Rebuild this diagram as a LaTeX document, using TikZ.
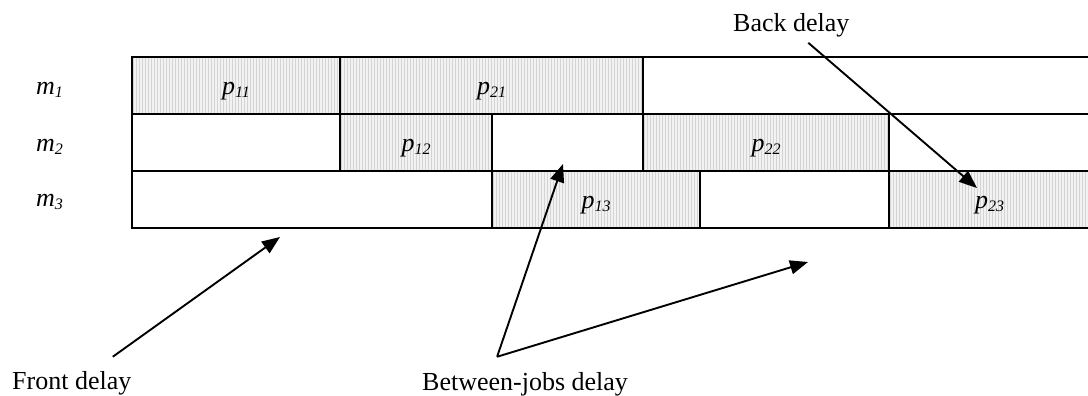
\documentclass[tikz,border=0pt]{standalone}
\usepackage{fontspec}
\setmainfont{Liberation Serif}
\usetikzlibrary{arrows.meta}
\definecolor{stripebg}{HTML}{F2F2F2}
\definecolor{stripefg}{HTML}{D4D4D4}
% job label with a Word-style italic subscript
\newcommand\jobp[1]{p\raisebox{-3pt}{\fontsize{16}{16}\selectfont #1}}
\newcommand\machm[1]{m\raisebox{-3pt}{\fontsize{16}{16}\selectfont #1}}
\begin{document}
\begin{tikzpicture}[x=1pt,y=-1pt,
  cell/.style={draw=black, line width=1.9pt, inner sep=0pt, outer sep=0pt,
    minimum height=57pt, text height=18pt, text depth=0pt,
    font=\fontsize{26}{26}\selectfont\itshape},
  idle/.style={cell},
  busy/.style={cell, fill=stripebg,
    path picture={
      \foreach \k in {1.5,4.5,...,460}
        \draw[line width=0.9pt, draw=stripefg]
          ([xshift=\k pt]path picture bounding box.south west) --
          ([xshift=\k pt]path picture bounding box.north west);
    }},
  mach/.style={anchor=base west, inner sep=0pt, font=\fontsize{26}{26}\selectfont\itshape},
  note/.style={anchor=base west, inner sep=0pt, font=\fontsize{26}{26}\selectfont},
  arr/.style={line width=1.9pt, -{Triangle[length=18pt,width=14pt]}}
]
\useasboundingbox (0,0) rectangle (1088,396);

% machine labels
\node[mach] (m1) at (36,95)    {\machm{1}};
\node[mach] (m2) at (36,151.5) {\machm{2}};
\node[mach] (m3) at (36,206)   {\machm{3}};

% machine 1
\node[busy, minimum width=208pt] (p11) at (236,85.5)   {\jobp{11}};
\node[busy, minimum width=303pt] (p21) at (491.5,85.5) {\jobp{21}};
\node[idle, minimum width=447pt] (r1c3) at (866.5,85.5) {};

% machine 2
\node[idle, minimum width=208pt] (r2c1) at (236,142.5)   {};
\node[busy, minimum width=152pt] (p12)  at (416,142.5)   {\jobp{12}};
\node[idle, minimum width=151pt] (r2c3) at (567.5,142.5) {};
\node[busy, minimum width=246pt] (p22)  at (766,142.5)   {\jobp{22}};
\node[idle, minimum width=201pt] (r2c5) at (989.5,142.5) {};

% machine 3
\node[idle, minimum width=360pt] (r3c1) at (312,199.5)   {};
\node[busy, minimum width=208pt] (p13)  at (596,199.5)   {\jobp{13}};
\node[idle, minimum width=189pt] (r3c3) at (794.5,199.5) {};
\node[busy, minimum width=201pt] (p23)  at (989.5,199.5) {\jobp{23}};

% delay annotations
\node[note] (front)   at (12,389)  {Front delay};
\node[note] (between) at (422,390) {Between-jobs delay};
\node[note] (back)    at (733,32)  {Back delay};

\coordinate (fd-tail) at ([shift={(41pt,14pt)}]front.north);
\coordinate (bj-tail) at ([shift={(-28pt,15pt)}]between.north);
\coordinate (bd-tail) at ([shift={(17pt,-5pt)}]back.south);

\coordinate (fd-tip)  at (280,237);
\coordinate (bj-tip1) at (563,164);
\coordinate (bj-tip2) at (808,262);
\coordinate (bd-tip)  at (977,188);

\draw[arr] (fd-tail) -- (fd-tip);
\draw[arr] (bj-tail) -- (bj-tip1);
\draw[arr] (bj-tail) -- (bj-tip2);
\draw[arr] (bd-tail) -- (bd-tip);
\end{tikzpicture}
\end{document}
